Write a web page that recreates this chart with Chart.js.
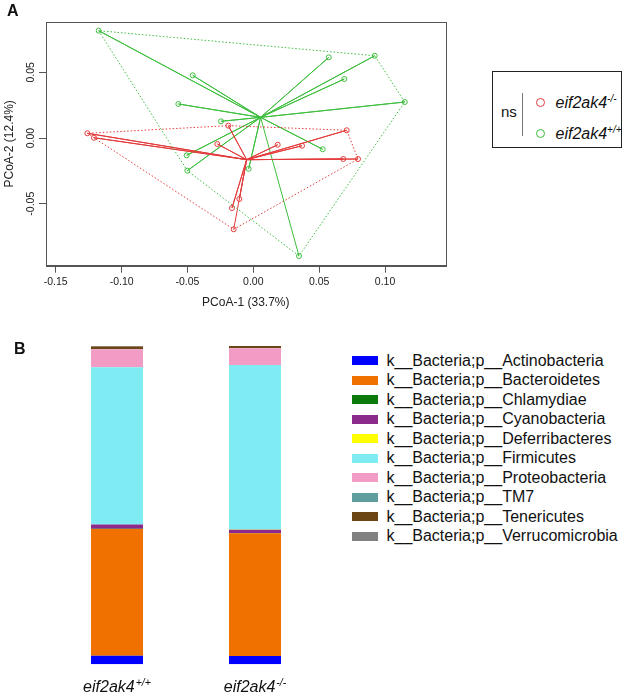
<!DOCTYPE html>
<html>
<head>
<meta charset="utf-8">
<script src="https://cdn.jsdelivr.net/npm/chart.js@4.4.0/dist/chart.umd.min.js"></script>
<style>
  body { margin: 0; background: #fff; font-family: 'Liberation Sans', Arial, sans-serif; color: #111; }
  #wrap { position: relative; width: 625px; height: 696px; overflow: hidden; }
  canvas { position: absolute; }
  .tag { position: absolute; font-weight: bold; font-size: 16px; line-height: 16px; }
  #boxA { position: absolute; left: 492px; top: 71px; width: 130px; height: 77px; border: 1.5px solid #222; box-sizing: border-box; }
  .abs { position: absolute; white-space: nowrap; }
  .geno { font-style: italic; font-size: 16px; line-height: 16px; }
  .geno sup { font-size: 10px; vertical-align: 0; position: relative; top: -6px; }
  .ring { position: absolute; width: 7px; height: 7px; border-radius: 50%; border: 1.3px solid; }
  .lrow { position: absolute; left: 352px; height: 16px; font-size: 16px; line-height: 16px; white-space: nowrap; }
  .lrow span { position: absolute; left: 0; top: 3.5px; width: 26px; height: 9px; }
  .lrow b { position: absolute; left: 34.5px; top: 0; font-weight: normal; }
</style>
</head>
<body>
<div id="wrap">
  <canvas id="pcoa" width="460" height="310" style="left:0;top:0"></canvas>
  <canvas id="bars" width="340" height="386" style="left:0;top:310px"></canvas>
  <div class="tag" style="left:7px;top:3px">A</div>
  <div class="tag" style="left:14px;top:341px">B</div>
  <div id="boxA"></div>
  <div class="abs" style="left:501px;top:104px;font-size:15px;line-height:16px">ns</div>
  <div class="abs" style="left:522px;top:93px;width:1px;height:43px;background:#777"></div>
  <div id="legA"></div>
  <div id="legB"></div>
</div>
<script>
// panel A: PCoA coordinates per sample
var koX = [-0.1260, -0.1210, -0.0273, -0.0190, 0.0185, 0.0370, 0.0709, 0.0683, 0.0795, -0.0106, -0.0162, -0.0149];
var koY = [0.0036, 0.0002, -0.0046, 0.0094, -0.0051, -0.0059, 0.0059, -0.0160, -0.0160, -0.0464, -0.0533, -0.0695];
var wtX = [-0.1174, -0.0460, -0.0569, 0.0573, 0.0922, 0.0691, 0.1150, -0.0245, 0.0527, -0.0506, -0.0501, -0.0035, 0.0347];
var wtY = [0.0817, 0.0477, 0.0259, 0.0614, 0.0626, 0.0449, 0.0274, 0.0127, -0.0086, -0.0132, -0.0249, -0.0234, -0.0898];
var xTicks = [-0.15, -0.10, -0.05, 0.00, 0.05, 0.10];
var yTicks = [-0.05, 0.00, 0.05];

// panel B: relative abundance (%)
var genoBase = ['eif2ak4', 'eif2ak4'];
var genoSup = ['+/+', '-/-'];
var phyla = ['Actinobacteria', 'Bacteroidetes', 'Chlamydiae', 'Cyanobacteria', 'Deferribacteres',
  'Firmicutes', 'Proteobacteria', 'TM7', 'Tenericutes', 'Verrucomicrobia'];
var wildType = [2.7, 39.8, 0.05, 1.35, 0.05, 49.4, 5.6, 0.1, 0.8, 0.15];
var knockOut = [2.6, 38.6, 0.05, 1.05, 0.05, 51.7, 5.25, 0.1, 1.0, 0.2];
var phylaColors = ['#0000FF', '#F07000', '#0A7A0A', '#8B2A8B', '#FFFF00', '#7EECF2', '#F29BC4', '#5F9E9E', '#6B4513', '#808080'];

var RED = '#E33B3B', GREEN = '#3DBE3D', AXIS = '#555';
Chart.defaults.font.family = "'Liberation Sans', Arial, sans-serif";
Chart.defaults.color = '#222';

function pts(xs, ys) { return xs.map(function (x, i) { return {x: x, y: ys[i]}; }); }
function centroid(p) {
  var sx = 0, sy = 0;
  p.forEach(function (q) { sx += q.x; sy += q.y; });
  return {x: sx / p.length, y: sy / p.length};
}
function spider(p) {
  var c = centroid(p), out = [];
  p.forEach(function (q) { out.push(c, q); });
  return out;
}
function hull(p) {
  var s = p.slice().sort(function (a, b) { return a.x - b.x || a.y - b.y; });
  function cross(o, a, b) { return (a.x - o.x) * (b.y - o.y) - (a.y - o.y) * (b.x - o.x); }
  var lo = [], up = [];
  s.forEach(function (q) {
    while (lo.length >= 2 && cross(lo[lo.length - 2], lo[lo.length - 1], q) <= 0) lo.pop();
    lo.push(q);
  });
  s.slice().reverse().forEach(function (q) {
    while (up.length >= 2 && cross(up[up.length - 2], up[up.length - 1], q) <= 0) up.pop();
    up.push(q);
  });
  var h = lo.slice(0, -1).concat(up.slice(0, -1));
  h.push(h[0]);
  return h;
}

var ko = pts(koX, koY), wt = pts(wtX, wtY);

var frame = {
  id: 'frame',
  afterDraw: function (chart) {
    var a = chart.chartArea, ctx = chart.ctx;
    ctx.save();
    ctx.strokeStyle = AXIS;
    ctx.lineWidth = 1;
    ctx.strokeRect(Math.round(a.left) + 0.5, Math.round(a.top) + 0.5, Math.round(a.right - a.left), Math.round(a.bottom - a.top));
    ctx.restore();
  }
};

new Chart(document.getElementById('pcoa'), {
  type: 'scatter',
  data: {
    datasets: [
      {data: hull(ko), showLine: true, borderColor: RED, borderWidth: 1, borderDash: [1.5, 2], pointRadius: 0},
      {data: hull(wt), showLine: true, borderColor: GREEN, borderWidth: 1, borderDash: [1.5, 2], pointRadius: 0},
      {data: spider(ko), showLine: true, borderColor: RED, borderWidth: 1, pointRadius: 0},
      {data: spider(wt), showLine: true, borderColor: GREEN, borderWidth: 1, pointRadius: 0},
      {data: ko, pointRadius: 2.5, pointBorderWidth: 1, pointBorderColor: RED, pointBackgroundColor: 'rgba(0,0,0,0)'},
      {data: wt, pointRadius: 2.5, pointBorderWidth: 1, pointBorderColor: GREEN, pointBackgroundColor: 'rgba(0,0,0,0)'}
    ]
  },
  options: {
    responsive: false,
    animation: false,
    layout: {padding: {left: 0, top: 22, right: 14.4, bottom: 0}},
    plugins: {legend: {display: false}, tooltip: {enabled: false}},
    scales: {
      x: {
        type: 'linear', min: -0.1574, max: 0.146,
        afterBuildTicks: function (s) { s.ticks = xTicks.map(function (v) { return {value: v}; }); },
        afterFit: function (s) { s.height = 44.3; },
        grid: {drawOnChartArea: false, drawTicks: true, tickLength: 7, tickColor: AXIS},
        border: {display: true, color: AXIS},
        ticks: {padding: 3, maxRotation: 0, font: {size: 10.5}, callback: function (v) { return v.toFixed(2); }},
        title: {display: true, text: 'PCoA-1 (33.7%)', font: {size: 12}, padding: 0}
      },
      y: {
        type: 'linear', min: -0.0972, max: 0.0883,
        afterBuildTicks: function (s) { s.ticks = yTicks.map(function (v) { return {value: v}; }); },
        afterFit: function (s) { s.width = 46; },
        grid: {drawOnChartArea: false, drawTicks: true, tickLength: 7, tickColor: AXIS},
        border: {display: true, color: AXIS},
        ticks: {padding: -3.7, minRotation: 90, maxRotation: 90, crossAlign: 'center', font: {size: 10.5},
          callback: function (v) { return v.toFixed(2); }},
        title: {display: true, text: 'PCoA-2 (12.4%)', font: {size: 12}, padding: {top: 2.8, bottom: 0}}
      }
    }
  },
  plugins: [frame]
});

// legend for panel A
var legA = document.getElementById('legA');
[[RED, 1, 102.5], [GREEN, 0, 133.5]].forEach(function (r) {
  var ring = document.createElement('div');
  ring.className = 'ring';
  ring.style.borderColor = r[0];
  ring.style.left = (540.7 - 4.8) + 'px';
  ring.style.top = (r[2] - 4.8) + 'px';
  legA.appendChild(ring);
  var t = document.createElement('div');
  t.className = 'abs geno';
  t.style.left = '555.5px';
  t.style.top = (r[2] - 8) + 'px';
  t.innerHTML = genoBase[r[1]] + '<sup>' + genoSup[r[1]] + '</sup>';
  legA.appendChild(t);
});

var genoLabels = {
  id: 'genoLabels',
  afterDraw: function (chart) {
    var ctx = chart.ctx, xs = chart.scales.x, base = chart.chartArea.bottom + 27.7;
    ctx.save();
    ctx.fillStyle = '#111';
    ctx.textBaseline = 'alphabetic';
    genoBase.forEach(function (b, i) {
      ctx.font = "italic 16px 'Liberation Sans', Arial, sans-serif";
      var w1 = ctx.measureText(b).width;
      ctx.font = "italic 10.5px 'Liberation Sans', Arial, sans-serif";
      var w2 = ctx.measureText(genoSup[i]).width;
      var x0 = xs.getPixelForValue(i) - (w1 + w2 + 1) / 2;
      ctx.font = "italic 16px 'Liberation Sans', Arial, sans-serif";
      ctx.fillText(b, x0, base);
      ctx.font = "italic 10.5px 'Liberation Sans', Arial, sans-serif";
      ctx.fillText(genoSup[i], x0 + w1 + 1, base - 6);
    });
    ctx.restore();
  }
};

new Chart(document.getElementById('bars'), {
  type: 'bar',
  data: {
    labels: genoBase.map(function (b, i) { return b + genoSup[i]; }),
    datasets: phyla.map(function (p, i) {
      return {label: 'k__Bacteria;p__' + p, data: [wildType[i], knockOut[i]], backgroundColor: phylaColors[i], borderWidth: 0};
    })
  },
  options: {
    responsive: false,
    animation: false,
    layout: {padding: {left: 48, right: 16, top: 36, bottom: 31.7}},
    datasets: {bar: {barPercentage: 0.377, categoryPercentage: 1}},
    plugins: {legend: {display: false}, tooltip: {enabled: false}},
    scales: {
      x: {stacked: true, display: false},
      y: {stacked: true, display: false, min: 0, max: 100}
    }
  },
  plugins: [genoLabels]
});

// legend for panel B
var legB = document.getElementById('legB');
phyla.forEach(function (p, i) {
  var row = document.createElement('div');
  row.className = 'lrow';
  row.style.top = (360.7 + i * 19.5 - 8) + 'px';
  row.innerHTML = '<span style="background:' + phylaColors[i] + '"></span><b>k__Bacteria;p__' + p + '</b>';
  legB.appendChild(row);
});
</script>
</body>
</html>
